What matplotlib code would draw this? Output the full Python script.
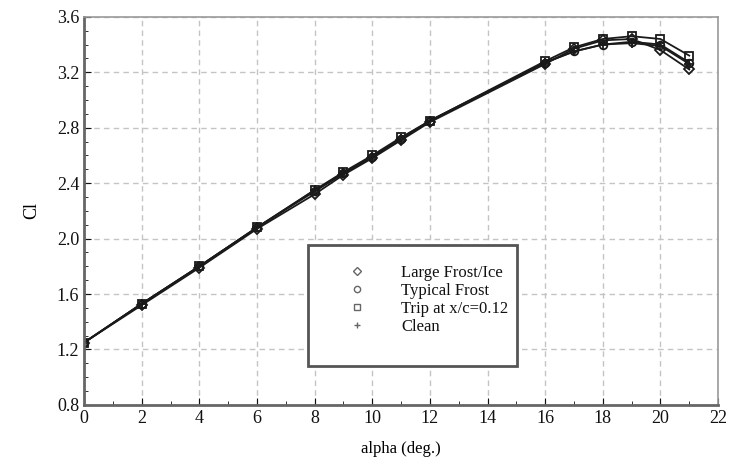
import matplotlib
matplotlib.use("Agg")
import matplotlib.pyplot as plt
from matplotlib.ticker import MultipleLocator
from matplotlib.patches import Rectangle

alpha = [0, 2, 4, 6, 8, 9, 10, 11, 12, 16, 17, 18, 19, 20, 21]
cl_large_frost = [1.25, 1.52, 1.79, 2.07, 2.32, 2.46, 2.58, 2.71, 2.84, 3.26, 3.37, 3.43, 3.44, 3.36, 3.22]
cl_typical_frost = [1.25, 1.53, 1.80, 2.08, 2.34, 2.47, 2.59, 2.72, 2.85, 3.27, 3.35, 3.40, 3.42, 3.40, 3.27]
cl_trip = [1.25, 1.53, 1.80, 2.08, 2.35, 2.48, 2.60, 2.73, 2.85, 3.28, 3.38, 3.44, 3.46, 3.44, 3.32]
cl_clean = [1.25, 1.53, 1.80, 2.08, 2.35, 2.47, 2.59, 2.72, 2.85, 3.27, 3.35, 3.40, 3.41, 3.39, 3.26]
labels = ["Large Frost/Ice", "Typical Frost", "Trip at x/c=0.12", "Clean"]

plt.rcParams['font.family'] = ['Liberation Serif', 'DejaVu Serif']

fig = plt.figure(figsize=(7.38, 4.67), dpi=100)
ax = fig.add_axes([0.114, 0.133, 0.859, 0.831])

series = [cl_large_frost, cl_typical_frost, cl_trip, cl_clean]
markers = ['D', 'o', 's', '+']
sizes = [5.5, 5.5, 5.5, 7]
for ys, m, lab, s in zip(series, markers, labels, sizes):
    ax.plot(alpha, ys, color='#1a1a1a', lw=1.3, marker=m, ms=s,
            mfc='none', mec='#1a1a1a', mew=1.3, label=lab)

ax.set_xlim(0, 22)
ax.set_ylim(0.8, 3.6)
ax.xaxis.set_major_locator(MultipleLocator(2))
ax.xaxis.set_minor_locator(MultipleLocator(1))
ax.yaxis.set_major_locator(MultipleLocator(0.4))
ax.yaxis.set_minor_locator(MultipleLocator(0.1))
ax.set_yticklabels([f"{v:.1f}" for v in ax.get_yticks()])
ax.grid(True, which='major', color='#c4c4c4', linestyle=(0, (4, 3)), lw=1.0)
ax.tick_params(which='both', direction='in', labelsize=13, colors='#111111')
ax.tick_params(which='major', length=5)
ax.tick_params(which='minor', length=3)
ax.tick_params(axis='x', pad=4)
for sp in ax.spines.values():
    sp.set_color('#999999')
    sp.set_linewidth(1.2)
ax.spines['left'].set_color('#666666')
ax.spines['bottom'].set_color('#666666')
ax.spines['left'].set_linewidth(2)
ax.spines['bottom'].set_linewidth(2)

ax.set_xlabel('alpha (deg.)', fontsize=12, labelpad=10)
ax.set_ylabel('Cl', fontsize=13, labelpad=12)

frame = Rectangle((0.353, 0.1005), 0.330, 0.312, transform=ax.transAxes,
                  fill=True, facecolor='white', edgecolor='#555555', lw=2.0, zorder=4)
ax.add_patch(frame)

leg = ax.legend(loc='upper left', bbox_to_anchor=(0.361, 0.36),
                fontsize=12, frameon=False, borderpad=0.0, borderaxespad=0.0,
                handlelength=5.3, labelspacing=0.12, handletextpad=0.0)
leg.set_zorder(5)
for h in leg.legend_handles:
    h.set_linestyle('none')
    h.set_markersize(4.5)
    h.set_markeredgewidth(1.0)
    h.set_markeredgecolor('#666666')
for t in leg.get_texts():
    t.set_color('#111111')

fig.savefig('out.png', dpi=100)
